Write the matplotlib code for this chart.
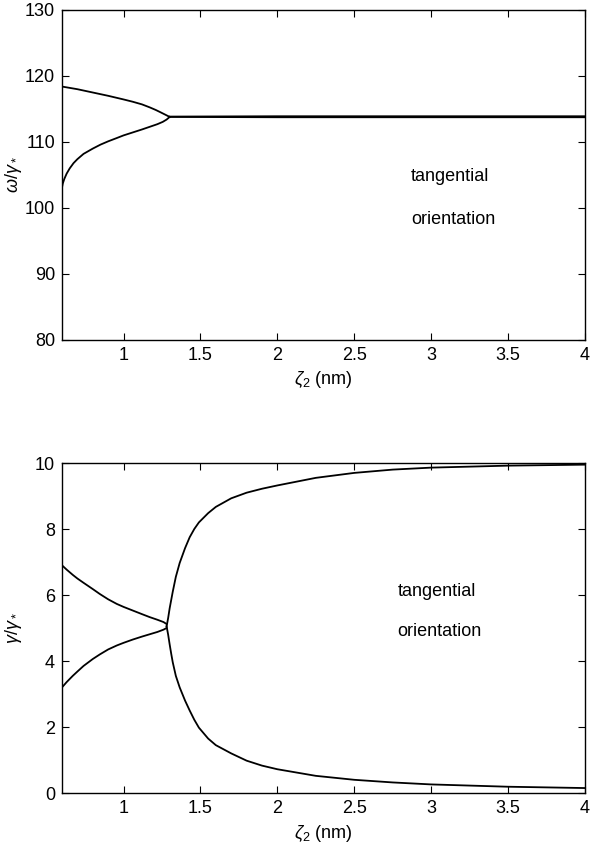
import numpy as np
import matplotlib.pyplot as plt

plt.rcParams['font.family'] = ['Liberation Sans', 'DejaVu Sans']
plt.rcParams['mathtext.fontset'] = 'custom'
plt.rcParams['mathtext.rm'] = 'Liberation Sans'
plt.rcParams['mathtext.it'] = 'Liberation Sans:italic'

# top panel: frequency branches (omega / gamma_*)
w_x_up = [0.6, 0.7, 0.8, 0.9, 1.0, 1.06, 1.12, 1.17, 1.21, 1.245, 1.275, 1.30]
w_up_left = [118.4, 118.0, 117.5, 117.0, 116.45, 116.1, 115.7, 115.25, 114.85, 114.45, 114.1, 113.8]
w_x_lo = [0.6, 0.605, 0.615, 0.63, 0.65, 0.675, 0.7, 0.74, 0.8, 0.85, 0.9, 0.956,
          1.0, 1.06, 1.12, 1.17, 1.22, 1.255, 1.28, 1.30]
w_lo_left = [103.1, 103.7, 104.4, 105.2, 106.0, 106.8, 107.4, 108.2, 109.0, 109.6, 110.1, 110.6,
             111.0, 111.45, 111.9, 112.3, 112.7, 113.05, 113.4, 113.8]
w_x_right = [1.30, 2.0, 3.0, 4.0]
w_up_right = [113.85, 113.9, 113.9, 113.9]
w_lo_right = [113.8, 113.75, 113.75, 113.75]

# bottom panel: damping branches (gamma / gamma_*)
g_x_left = [0.6, 0.63, 0.67, 0.7, 0.74, 0.8, 0.846, 0.9, 0.956, 1.0, 1.06, 1.12, 1.17, 1.22, 1.26, 1.28]
g_up_left = [6.9, 6.77, 6.61, 6.5, 6.37, 6.18, 6.03, 5.87, 5.73, 5.64, 5.53, 5.42, 5.33, 5.25, 5.18, 5.12]
g_lo_left = [3.2, 3.36, 3.55, 3.68, 3.85, 4.06, 4.2, 4.35, 4.47, 4.55, 4.65, 4.74, 4.81, 4.88, 4.95, 5.0]
g_x_right = [1.28, 1.29, 1.30, 1.31, 1.32, 1.34, 1.365, 1.40, 1.43, 1.46, 1.49, 1.55, 1.6, 1.7,
             1.8, 1.9, 2.0, 2.25, 2.5, 2.75, 3.0, 3.5, 4.0]
g_up_right = [5.05, 5.3, 5.6, 5.85, 6.1, 6.55, 6.97, 7.42, 7.75, 8.0, 8.2, 8.48, 8.67, 8.93,
              9.1, 9.22, 9.32, 9.55, 9.7, 9.8, 9.86, 9.92, 9.95]
g_lo_right = [5.05, 4.8, 4.5, 4.22, 3.96, 3.55, 3.2, 2.8, 2.5, 2.22, 1.98, 1.65, 1.45, 1.2,
              0.98, 0.83, 0.72, 0.52, 0.4, 0.32, 0.26, 0.19, 0.15]

xticks = [1, 1.5, 2, 2.5, 3, 3.5, 4]
xticklabels = ['1', '1.5', '2', '2.5', '3', '3.5', '4']

fs = 13


def style(ax):
    ax.set_xlim(0.6, 4)
    ax.set_xticks(xticks)
    ax.set_xticklabels(xticklabels)
    ax.tick_params(direction='in', top=True, right=True, labelsize=fs, length=5, width=0.8, pad=5)
    for s in ax.spines.values():
        s.set_linewidth(1.0)
    ax.yaxis.set_label_coords(-0.072, 0.5)


fig = plt.figure(figsize=(5.92, 8.52), dpi=100)
ax1 = fig.add_axes([62 / 592, 1 - 340 / 852, 523 / 592, 330 / 852])
ax2 = fig.add_axes([62 / 592, 1 - 793 / 852, 523 / 592, 330 / 852])

lw = 1.3
ax1.plot(w_x_up, w_up_left, color='k', lw=lw)
ax1.plot(w_x_lo, w_lo_left, color='k', lw=lw)
ax1.plot(w_x_right, w_up_right, color='k', lw=lw)
ax1.plot(w_x_right, w_lo_right, color='k', lw=lw)
ax1.set_ylim(80, 130)
ax1.set_yticks([80, 90, 100, 110, 120, 130])
style(ax1)
ax1.set_xlabel(r'$\zeta_2$ (nm)', fontsize=fs)
ax1.set_ylabel(r'$\omega/\gamma_*$', fontsize=fs)
ax1.text(2.87, 104.8, 'tangential', fontsize=fs, va='center')
ax1.text(2.87, 98.3, 'orientation', fontsize=fs, va='center')

ax2.plot(g_x_left, g_up_left, color='k', lw=lw)
ax2.plot(g_x_left, g_lo_left, color='k', lw=lw)
ax2.plot(g_x_right, g_up_right, color='k', lw=lw)
ax2.plot(g_x_right, g_lo_right, color='k', lw=lw)
ax2.set_ylim(0, 10)
ax2.set_yticks([0, 2, 4, 6, 8, 10])
style(ax2)
ax2.set_xlabel(r'$\zeta_2$ (nm)', fontsize=fs)
ax2.set_ylabel(r'$\gamma/\gamma_*$', fontsize=fs)
ax2.text(2.78, 6.1, 'tangential', fontsize=fs, va='center')
ax2.text(2.78, 4.9, 'orientation', fontsize=fs, va='center')

fig.savefig('out.png', dpi=100)
